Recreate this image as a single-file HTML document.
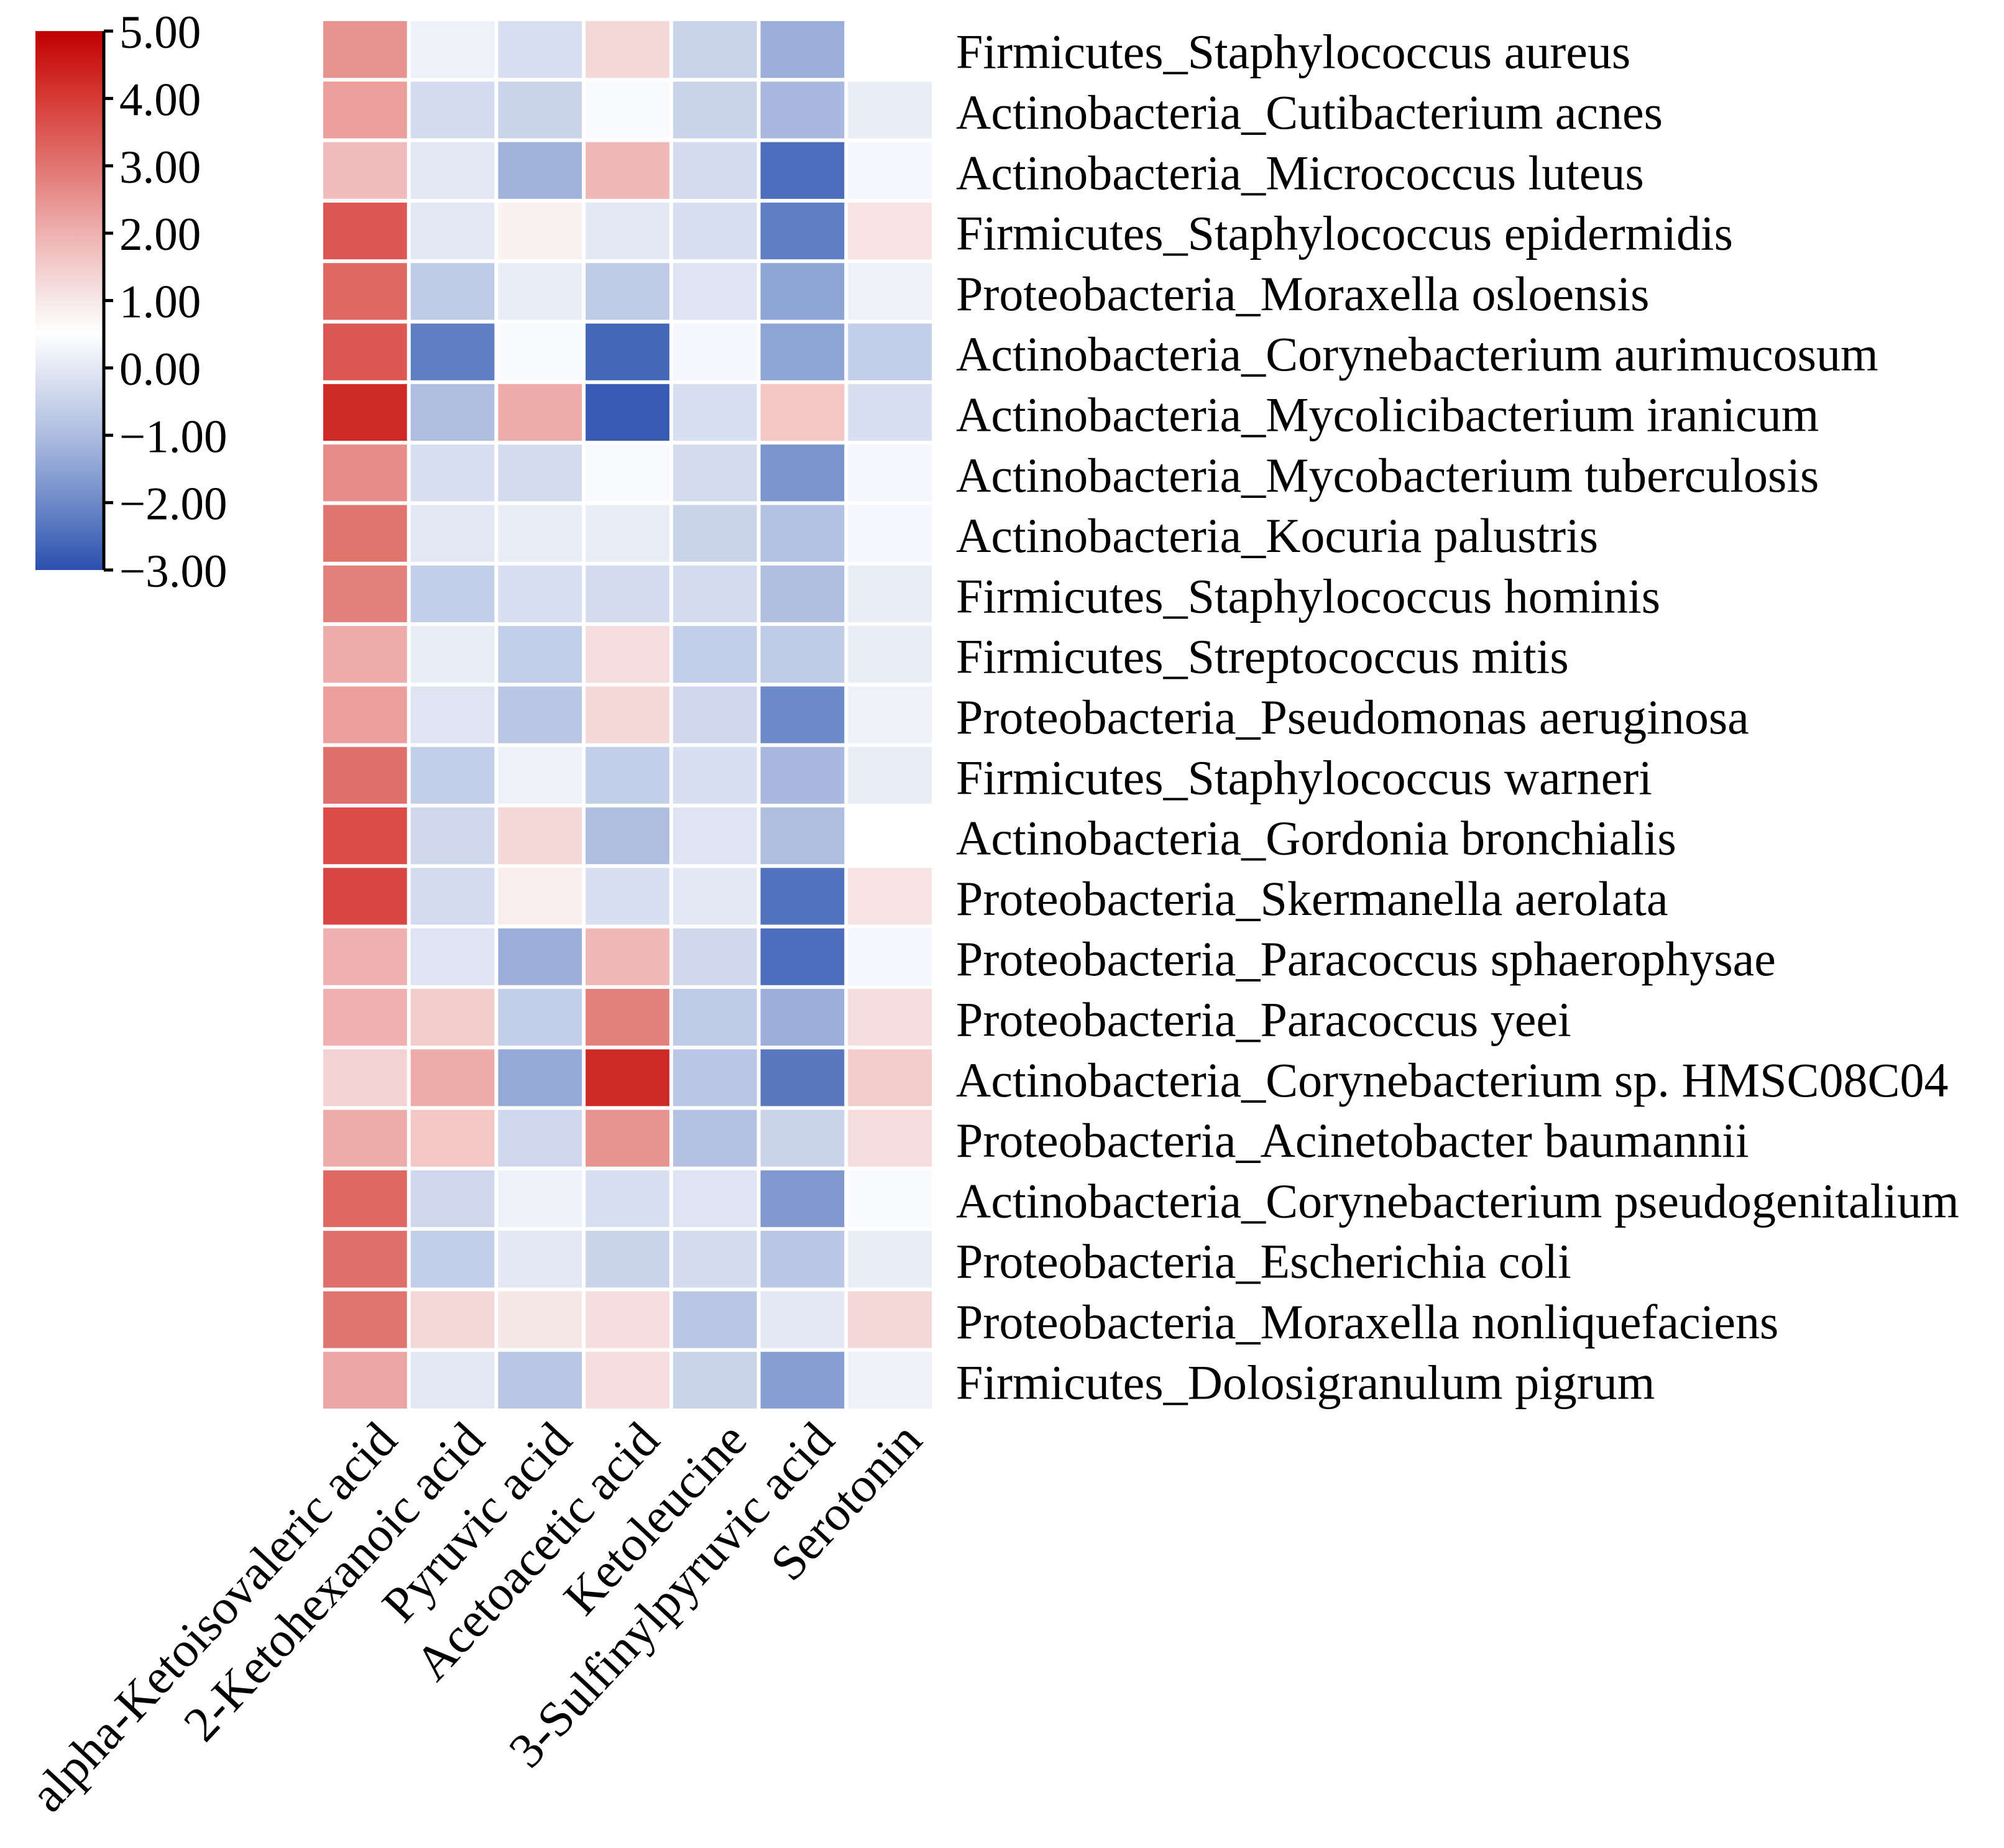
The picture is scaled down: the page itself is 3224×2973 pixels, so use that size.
<!DOCTYPE html>
<html><head><meta charset="utf-8">
<style>html,body{margin:0;padding:0;background:#fff;}svg{display:block;}</style>
</head><body>
<svg id="chart" width="3224" height="2973" viewBox="0 0 3224 2973" xmlns="http://www.w3.org/2000/svg" font-family="'Liberation Serif', serif">
<defs>
<linearGradient id="cbg" x1="0" y1="1" x2="0" y2="0">
<stop offset="0" stop-color="#2a4fae"/>
<stop offset="0.125" stop-color="#6d8ac8"/>
<stop offset="0.25" stop-color="#aebde0"/>
<stop offset="0.375" stop-color="#e3e8f4"/>
<stop offset="0.44" stop-color="#ffffff"/>
<stop offset="0.5" stop-color="#f7e8e8"/>
<stop offset="0.625" stop-color="#eeb1b0"/>
<stop offset="0.75" stop-color="#e07570"/>
<stop offset="0.875" stop-color="#d63a35"/>
<stop offset="1" stop-color="#c00000"/>
</linearGradient>
</defs>
<g id="cells"></g>
<g id="rowlabels"></g>
<g id="collabels"></g>
<g id="colorbar">
<rect x="57" y="50" width="110" height="867" fill="url(#cbg)"/>
<line x1="167" y1="50" x2="167" y2="917" stroke="#000" stroke-width="5"/>
</g>
</svg>
<script>
const rows = ["Firmicutes_Staphylococcus aureus","Actinobacteria_Cutibacterium acnes","Actinobacteria_Micrococcus luteus","Firmicutes_Staphylococcus epidermidis","Proteobacteria_Moraxella osloensis","Actinobacteria_Corynebacterium aurimucosum","Actinobacteria_Mycolicibacterium iranicum","Actinobacteria_Mycobacterium tuberculosis","Actinobacteria_Kocuria palustris","Firmicutes_Staphylococcus hominis","Firmicutes_Streptococcus mitis","Proteobacteria_Pseudomonas aeruginosa","Firmicutes_Staphylococcus warneri","Actinobacteria_Gordonia bronchialis","Proteobacteria_Skermanella aerolata","Proteobacteria_Paracoccus sphaerophysae","Proteobacteria_Paracoccus yeei","Actinobacteria_Corynebacterium sp. HMSC08C04","Proteobacteria_Acinetobacter baumannii","Actinobacteria_Corynebacterium pseudogenitalium","Proteobacteria_Escherichia coli","Proteobacteria_Moraxella nonliquefaciens","Firmicutes_Dolosigranulum pigrum"];
const cols = ["alpha-Ketoisovaleric acid","2-Ketohexanoic acid","Pyruvic acid","Acetoacetic acid","Ketoleucine","3-Sulfinylpyruvic acid","Serotonin"];
const values = [
[2.5,0.2,-0.2,1.3,-0.5,-1.3,0.5],
[2.3,-0.3,-0.5,0.4,-0.5,-1.1,0.1],
[1.8,0.0,-1.2,1.9,-0.3,-2.5,0.3],
[3.5,0.0,0.8,0.0,-0.2,-2.2,1.1],
[3.2,-0.7,0.1,-0.7,-0.1,-1.5,0.2],
[3.5,-2.2,0.4,-2.6,0.3,-1.5,-0.6],
[4.3,-1.0,2.1,-2.8,-0.2,1.6,-0.2],
[2.6,-0.2,-0.3,0.4,-0.3,-1.8,0.3],
[3.0,0.0,0.1,0.1,-0.5,-0.9,0.3],
[2.8,-0.6,-0.2,-0.3,-0.3,-1.0,0.1],
[2.1,0.1,-0.6,1.2,-0.6,-0.7,0.1],
[2.3,-0.1,-0.8,1.3,-0.4,-2.0,0.2],
[3.1,-0.6,0.2,-0.6,-0.2,-1.1,0.1],
[3.7,-0.4,1.3,-1.0,-0.1,-1.0,0.5],
[3.8,-0.3,0.9,-0.2,0.0,-2.4,1.1],
[2.0,-0.1,-1.3,1.9,-0.4,-2.5,0.3],
[2.0,1.5,-0.6,2.8,-0.7,-1.3,1.2],
[1.4,2.1,-1.4,4.3,-0.8,-2.3,1.5],
[2.1,1.6,-0.4,2.5,-0.9,-0.5,1.2],
[3.2,-0.4,0.2,-0.2,-0.1,-1.7,0.4],
[3.1,-0.6,0.0,-0.5,-0.3,-0.8,0.1],
[3.0,1.3,1.0,1.2,-0.8,0.0,1.3],
[2.2,0.0,-0.8,1.2,-0.5,-1.6,0.2]
];
const tickValues = [5,4,3,2,1,0,-1,-2,-3];
const tickLabels = ["5.00","4.00","3.00","2.00","1.00","0.00","\u22121.00","\u22122.00","\u22123.00"];

const NS="http://www.w3.org/2000/svg";
const X0=517, X1=1502, Y0=31, Y1=2269;
const cw=(X1-X0)/cols.length, rh=(Y1-Y0)/rows.length;
const xS=i=>X0+i*cw, yS=j=>Y0+j*rh;
const vmin=-3, vmax=5, CB0=50, CB1=917;
const cbY=v=>CB1-(v-vmin)/(vmax-vmin)*(CB1-CB0);
const stops=[[-3,[42,79,174]],[-2,[109,138,200]],[-1,[174,189,224]],[0,[227,232,244]],[0.5,[255,255,255]],[1,[247,232,232]],[2,[238,177,176]],[3,[224,117,112]],[4,[214,58,53]],[5,[192,0,0]]];
function color(v){v=Math.max(vmin,Math.min(vmax,v));for(let k=0;k<stops.length-1;k++){const a=stops[k],b=stops[k+1];if(v<=b[0]){const t=(v-a[0])/(b[0]-a[0]);const c=a[1].map((x,i)=>Math.round(x+(b[1][i]-x)*t));return `rgb(${c})`;}}return 'rgb(192,0,0)';}
function mk(t,a,p){const e=document.createElementNS(NS,t);for(const k in a)e.setAttribute(k,a[k]);p.appendChild(e);return e;}
const gc=document.getElementById('cells');
values.forEach((row,j)=>row.forEach((v,i)=>{
 const r=mk('rect',{x:xS(i)+3,y:yS(j)+3,width:cw-6,height:rh-6,fill:color(v)},gc);
 
 
}));
const gr=document.getElementById('rowlabels');
rows.forEach((n,j)=>{
 const t=mk('text',{x:1538,y:yS(j)+rh/2+30,'font-size':78},gr);t.textContent=n;
 
 
});
const gl=document.getElementById('collabels');
cols.forEach((n,i)=>{
 const x=xS(i)+cw/2+55,y=2320;
 const t=mk('text',{x:x,y:y,'font-size':80,'text-anchor':'end',transform:`rotate(-47 ${x} ${y})`},gl);t.textContent=n;
 
 
});
const gb=document.getElementById('colorbar');
tickValues.forEach((v,k)=>{
 const y=cbY(v);
 const l=mk('line',{x1:167,y1:y,x2:182,y2:y,stroke:'#000','stroke-width':5},gb);
 
 
 const t=mk('text',{x:192,y:y+27,'font-size':75},gb);t.textContent=tickLabels[k];
 
 
});
</script>
</body></html>
